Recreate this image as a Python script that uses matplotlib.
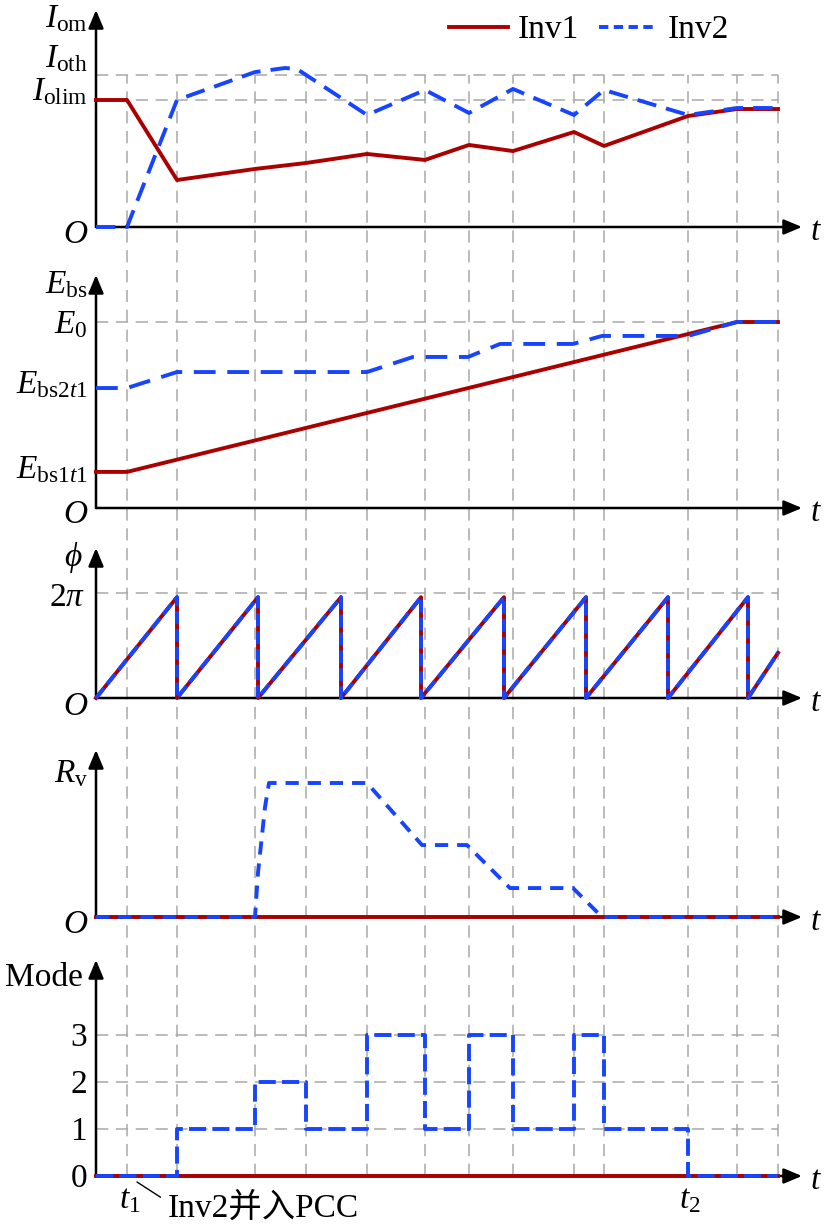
import matplotlib
matplotlib.use('Agg')
import matplotlib.pyplot as plt
from matplotlib.lines import Line2D
from matplotlib.transforms import offset_copy

# Fuentes: Times-like para el texto y CJK para los caracteres chinos
plt.rcParams['font.family'] = ['Liberation Serif', 'Noto Sans CJK SC']
plt.rcParams['mathtext.fontset'] = 'custom'
plt.rcParams['mathtext.rm'] = 'Liberation Serif'
plt.rcParams['mathtext.it'] = 'Liberation Serif:italic'
plt.rcParams['mathtext.bf'] = 'Liberation Serif:bold'
plt.rcParams['font.size'] = 24

# =============================================================================
# DATOS (eje de tiempo en unidades arbitrarias, 0 = origen)
# =============================================================================
t_grid = [31, 81, 159, 210, 271, 329, 373, 417, 478, 508, 592, 641, 682]
t_end = 682
t_axis = 706          # punta de la flecha del eje t
t1, t2 = 31, 592

# Panel 1: amplitud de corriente (unidades de I_olim)
I_oth, I_olim = 1.2, 1.0
t_i1 = [0, 31, 81, 159, 210, 271, 329, 373, 417, 478, 508, 592, 641, 682]
i_inv1 = [1.0, 1.0, 0.37, 0.457, 0.504, 0.575, 0.528, 0.646, 0.598, 0.748, 0.638, 0.874, 0.929, 0.929]
t_i2 = [0, 31, 81, 159, 189, 201, 271, 329, 373, 417, 478, 508, 592, 641, 682]
i_inv2 = [0, 0, 1.0, 1.22, 1.252, 1.244, 0.882, 1.079, 0.898, 1.087, 0.882, 1.079, 0.882, 0.937, 0.937]

# Panel 2: E_bs (unidades de E0)
E0, E_bs2t1, E_bs1t1 = 1.0, 0.645, 0.194
t_e1 = [0, 31, 641, 682]
e_inv1 = [0.194, 0.194, 1.0, 1.0]
t_e2 = [0, 31, 81, 271, 317, 372, 404, 477, 506, 592, 641, 682]
e_inv2 = [0.645, 0.645, 0.731, 0.731, 0.812, 0.812, 0.882, 0.882, 0.925, 0.925, 1.0, 1.0]

# Panel 3: fase (unidades de 2*pi)
t_wrap = [81, 162, 245, 325, 408, 490, 572, 652]
phi_peak = 0.96
phi_end = 0.43

# Panel 4: resistencia virtual
t_r = [0, 159, 162, 169, 173, 271, 326, 371, 414, 477, 506, 682]
r_inv2 = [0, 0, 0.33, 0.82, 1.0, 1.0, 0.537, 0.537, 0.216, 0.216, 0, 0]

# Panel 5: modo
t_mode = [0, 81, 159, 210, 271, 329, 373, 417, 478, 508, 592, 682]
mode_inv2 = [0, 1, 2, 1, 3, 1, 3, 1, 3, 1, 0, 0]
mode_ticks = [0, 1, 2, 3]

# =============================================================================
# CONFIGURACION
# =============================================================================
W, H = 825, 1224
X0 = 96
RED = '#aa0000'
BLUE = '#1744ff'
GRID = dict(color='#a8a8a8', lw=1.1, linestyle=(0, (8, 5)))
LW = 2.8

fig = plt.figure(figsize=(W / 100, H / 100), dpi=100)
fig.patch.set_facecolor('white')

# Rejilla vertical continua detrás de todos los paneles
bg = fig.add_axes([X0 / W, 1 - 1176 / H, t_axis / W, (1176 - 75) / H])
bg.set_xlim(0, t_axis)
bg.set_ylim(0, 1)
bg.set_axis_off()
for tg in t_grid:
    bg.axvline(tg, **GRID)


def panel(origin, top, unit):
    ax = fig.add_axes([X0 / W, 1 - origin / H, t_axis / W, (origin - top) / H])
    ax.set_facecolor('none')
    ymax = (origin - top) / unit
    ax.set_xlim(0, t_axis)
    ax.set_ylim(0, ymax)
    ax.set_axis_off()
    kw = dict(arrowstyle='-|>,head_length=0.55,head_width=0.23', lw=1.8, color='k',
              shrinkA=0, shrinkB=0, mutation_scale=20)
    ax.annotate('', xy=(t_axis, 0), xytext=(0, 0), arrowprops=kw, annotation_clip=False, zorder=2)
    ax.annotate('', xy=(0, ymax), xytext=(0, 0), arrowprops=kw, annotation_clip=False, zorder=2)
    ax.annotate(r'$t$', xy=(t_axis, 0), xytext=(8, -13), textcoords='offset pixels',
                ha='left', va='baseline', annotation_clip=False)
    return ax, ymax


def ylab(ax, text, y, dy, dx=-8, va='baseline'):
    ax.annotate(text, xy=(0, y), xytext=(dx, dy), textcoords='offset pixels',
                ha='right', va=va, annotation_clip=False)


def hgrid(ax, levels):
    ax.hlines(levels, 0, t_end, zorder=1, **GRID)


# ---------------- Panel 1 ----------------
ax1, ym1 = panel(227, 10, 127)
hgrid(ax1, [I_olim, I_oth])
l1, = ax1.plot(t_i1, i_inv1, color=RED, lw=LW, clip_on=False, zorder=3)
l2, = ax1.plot(t_i2, i_inv2, color=BLUE, lw=LW, dashes=(5, 2.6), clip_on=False, zorder=4)
ylab(ax1, r'$I_{\mathrm{om}}$', ym1, -17)
ylab(ax1, r'$I_{\mathrm{oth}}$', I_oth, 7)
ylab(ax1, r'$I_{\mathrm{olim}}$', I_olim, 0)
ylab(ax1, r'$O$', 0, -16)
h1 = Line2D([], [], color=RED, lw=LW)
h2 = Line2D([], [], color=BLUE, lw=LW, dashes=(2.4, 1.4))
ax1.legend([h1, h2], ['Inv1', 'Inv2'], ncol=2, loc='center',
           bbox_to_anchor=(589 / W, 1 - 30 / H), bbox_transform=fig.transFigure,
           frameon=False, handlelength=1.75, handletextpad=0.3, columnspacing=0.6,
           borderpad=0, fontsize=24)

# ---------------- Panel 2 ----------------
ax2, ym2 = panel(508, 275, 186)
hgrid(ax2, [E0])
ax2.plot(t_e1, e_inv1, color=RED, lw=LW, clip_on=False, zorder=3)
ax2.plot(t_e2, e_inv2, color=BLUE, lw=LW, dashes=(5.6, 3), clip_on=False, zorder=4)
ylab(ax2, r'$E_{\mathrm{bs}}$', ym2, -18)
ylab(ax2, r'$E_0$', E0, -11)
ylab(ax2, r'$E_{\mathrm{bs2}t1}$', E_bs2t1, -5)
ylab(ax2, r'$E_{\mathrm{bs1}t1}$', E_bs1t1, -6)
ylab(ax2, r'$O$', 0, -15)

# ---------------- Panel 3 ----------------
ax3, ym3 = panel(698, 548, 105)
hgrid(ax3, [1.0])
t_phi, phi = [0], [0]
for tw in t_wrap:
    t_phi += [tw, tw]
    phi += [phi_peak, 0]
t_phi.append(t_end)
phi.append(phi_end)
ax3.plot(t_phi, phi, color=RED, lw=LW, clip_on=False, zorder=3)
ax3.plot(t_phi, phi, color=BLUE, lw=LW, dashes=(3.3, 1.3), clip_on=False, zorder=4)
ylab(ax3, r'$\phi$', ym3, -18, dx=-13)
ylab(ax3, r'$2\pi$', 1.0, -13, dx=-11)
ylab(ax3, r'$O$', 0, -17)

# ---------------- Panel 4 ----------------
ax4, ym4 = panel(917, 750, 134)
ax4.plot([0, t_end], [0, 0], color=RED, lw=LW, clip_on=False, zorder=3)
ax4.plot(t_r, r_inv2, color=BLUE, lw=LW, dashes=(3.4, 2.3), clip_on=False, zorder=4)
ylab(ax4, r'$R_{\mathrm{v}}$', ym4, -32)
ylab(ax4, r'$O$', 0, -16)

# ---------------- Panel 5 ----------------
ax5, ym5 = panel(1176, 960, 47)
hgrid(ax5, mode_ticks[1:])
ax5.plot([0, t_end], [0, 0], color=RED, lw=LW, clip_on=False, zorder=3)
ax5.step(t_mode, mode_inv2, where='post', color=BLUE, lw=LW, dashes=(4.4, 1.6),
         clip_on=False, zorder=4)
ylab(ax5, 'Mode', ym5, -26, dx=-13)
for m in mode_ticks:
    ylab(ax5, str(m), m, -3, dx=-9, va='center')

ax5.annotate(r'$t_1$', xy=(t1, 0), xytext=(3, -32), textcoords='offset pixels',
             ha='center', va='baseline', annotation_clip=False)
ax5.annotate(r'$t_2$', xy=(t2, 0), xytext=(2, -32), textcoords='offset pixels',
             ha='center', va='baseline', annotation_clip=False)
ax5.annotate('Inv2并入PCC', xy=(t1, 0),
             xycoords=offset_copy(ax5.transData, fig=fig, x=10, y=-6, units='dots'),
             xytext=(31, -35), textcoords='offset pixels', ha='left', va='baseline',
             annotation_clip=False,
             arrowprops=dict(arrowstyle='-', lw=1.0, color='k', relpos=(0, 0.7),
                             shrinkA=4, shrinkB=0))

plt.savefig('out.png', dpi=100)
